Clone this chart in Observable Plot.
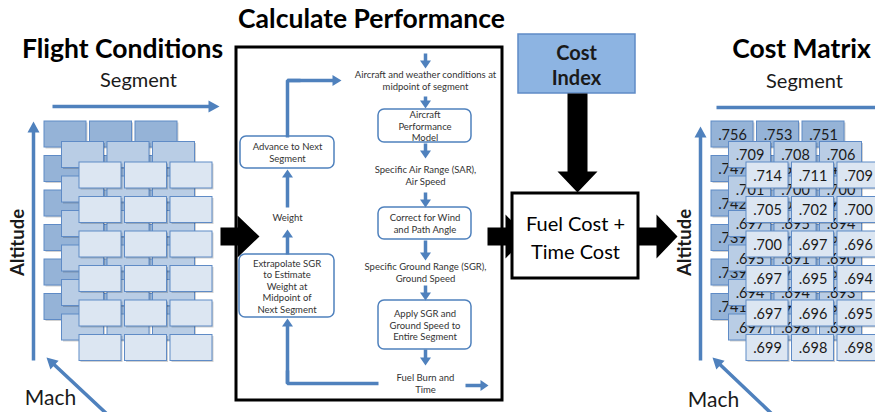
<!DOCTYPE html>
<html><head><meta charset="utf-8">
<script src="https://cdn.jsdelivr.net/npm/d3@7"></script>
<script src="https://cdn.jsdelivr.net/npm/@observablehq/plot@0.6"></script>
<style>body{margin:0;background:#fff} svg{display:block}</style>
</head><body><div id="chart"></div>
<script>
// ---- content ----
const titles = ["Flight Conditions", "Calculate Performance", "Cost Matrix"];
const axisLabels = ["Segment", "Altitude", "Mach"];
const layers = ["back", "middle", "front"];
const costBack = [[0.756,0.753,0.751],[0.747,0.745,0.744],[0.742,0.740,0.739],[0.739,0.737,0.736],[0.739,0.737,0.736],[0.741,0.739,0.738]];
const costMiddle = [[0.709,0.708,0.706],[0.701,0.700,0.700],[0.697,0.695,0.694],[0.695,0.691,0.690],[0.694,0.694,0.693],[0.697,0.698,0.696]];
const costFront = [[0.714,0.711,0.709],[0.705,0.702,0.700],[0.700,0.697,0.696],[0.697,0.695,0.694],[0.697,0.696,0.695],[0.699,0.698,0.698]];
const flowSteps = ["Aircraft and weather conditions at\nmidpoint of segment","Aircraft\nPerformance\nModel","Specific Air Range (SAR),\nAir Speed","Correct for Wind\nand Path Angle","Specific Ground Range (SGR),\nGround Speed","Apply SGR and\nGround Speed to\nEntire Segment","Fuel Burn and\nTime"];
const loopSteps = ["Extrapolate SGR\nto Estimate\nWeight at\nMidpoint of\nNext Segment","Weight","Advance to Next\nSegment"];
const costIndexLabel = "Cost\nIndex";
const costTotalLabel = "Fuel Cost +\nTime Cost";

// ---- layout ----
const W = 875, H = 412;
const BLUE = "#4f81bd";
const layerFill = ["#95b3d7", "#b9cde5", "#dce6f2"];
const matrices = [costBack, costMiddle, costFront];
const fmt = v => d3.format(".3f")(v).replace(/^0/, "");

function cells(l) {
  const out = [];
  for (let p = 0; p < 2; p++)
    for (let r = 0; r < 6; r++)
      for (let c = 0; c < 3; c++) {
        const x1 = 44 + 667 * p + 17.5 * l + 45.5 * c;
        const y1 = 121 + 20.5 * l + 34.5 * r;
        out.push({panel: p, x1, x2: x1 + 42, y1, y2: y1 + 26,
          label: p === 1 ? fmt(matrices[l][r][c]) : ""});
      }
  return out;
}

function arrowPoly(id, x1, y1, x2, y2, shaft, headW, headL) {
  const dx = x2 - x1, dy = y2 - y1, len = Math.hypot(dx, dy);
  const ux = dx / len, uy = dy / len, nx = -uy, ny = ux;
  const bx = x2 - ux * headL, by = y2 - uy * headL;
  const pts = [
    [x1 + nx * shaft / 2, y1 + ny * shaft / 2],
    [bx + nx * shaft / 2, by + ny * shaft / 2],
    [bx + nx * headW / 2, by + ny * headW / 2],
    [x2, y2],
    [bx - nx * headW / 2, by - ny * headW / 2],
    [bx - nx * shaft / 2, by - ny * shaft / 2],
    [x1 - nx * shaft / 2, y1 - ny * shaft / 2]
  ];
  return pts.map(([x, y]) => ({id, x, y}));
}

// blue arrows
const blueArrows = [
  arrowPoly("segL", 52, 106, 219, 106, 3.5, 12, 11),
  arrowPoly("altL", 33, 360, 33, 121, 3.5, 12, 11),
  arrowPoly("machL", 108, 415, 46, 357, 3.5, 12, 11),
  arrowPoly("segR", 716, 107, 890, 107, 3.5, 12, 11),
  arrowPoly("altR", 700, 360, 700, 126, 3.5, 12, 11),
  arrowPoly("machR", 772, 414, 712, 357, 3.5, 12, 11),
  arrowPoly("f1", 425, 53, 425, 68, 3.5, 11, 8),
  arrowPoly("f2", 425, 96, 425, 108, 3.5, 11, 8),
  arrowPoly("f3", 425, 143, 425, 158, 3.5, 11, 8),
  arrowPoly("f4", 425, 192, 425, 207, 3.5, 11, 8),
  arrowPoly("f5", 425, 240, 425, 260, 3.5, 11, 8),
  arrowPoly("f6", 425, 285, 425, 300, 3.5, 11, 8),
  arrowPoly("f7", 425, 349, 425, 365, 3.5, 11, 8),
  arrowPoly("f8", 465, 385, 488, 385, 3.5, 11, 8),
  arrowPoly("l1", 287, 383, 287, 318, 3.5, 11, 8),
  arrowPoly("l2", 287, 254, 287, 229, 3.5, 11, 8),
  arrowPoly("l3", 287, 207, 287, 169, 3.5, 11, 8),
  arrowPoly("l4", 287, 80, 341, 80, 3.5, 11, 9)
].flat();
const blueLines = [
  {id: "a", x: 378, y: 383}, {id: "a", x: 287, y: 383}, {id: "a", x: 287, y: 370},
  {id: "b", x: 287, y: 137}, {id: "b", x: 287, y: 80}, {id: "b", x: 300, y: 80}
];

// black block arrows
const blackArrows = [
  arrowPoly("k1", 220, 236, 259, 236, 18, 42, 22),
  arrowPoly("k2", 487, 236, 526, 236, 18, 44, 21),
  arrowPoly("k3", 638, 236, 677, 236, 18, 44, 21),
  arrowPoly("k4", 577, 93, 577, 192, 20, 40, 21)
].flat();

const flowBoxes = [
  {label: flowSteps[1], x1: 378, x2: 471, y1: 109, y2: 142},
  {label: flowSteps[3], x1: 378, x2: 471, y1: 207, y2: 239},
  {label: flowSteps[5], x1: 378, x2: 471, y1: 300, y2: 349},
  {label: loopSteps[0], x1: 239, x2: 334, y1: 254, y2: 317},
  {label: loopSteps[2], x1: 240, x2: 334, y1: 136, y2: 168}
];
const flowTexts = [
  {label: flowSteps[0], x: 425, y: 80},
  {label: flowSteps[2], x: 425, y: 175},
  {label: flowSteps[4], x: 425, y: 272},
  {label: flowSteps[6], x: 425, y: 383},
  {label: loopSteps[1], x: 287, y: 217}
];

const titleText = [
  {label: titles[0], x: 122, y: 49},
  {label: titles[1], x: 371, y: 19},
  {label: titles[2], x: 801, y: 49}
];
const segText = [{label: axisLabels[0], x: 138, y: 80}, {label: axisLabels[0], x: 804, y: 81}];
const altText = [{label: axisLabels[1], x: 18, y: 242}, {label: axisLabels[1], x: 685, y: 242}];
const machText = [{label: axisLabels[2], x: 50, y: 398}, {label: axisLabels[2], x: 713, y: 400}];

const marks = [];
layers.forEach((layer, l) => {
  const data = cells(l);
  marks.push(Plot.rect(data, {x1: d => d.x1 + 1.5, x2: d => d.x2 + 1.5, y1: d => d.y1 + 1.5, y2: d => d.y2 + 1.5, fill: "#000", fillOpacity: 0.18}));
  marks.push(Plot.rect(data, {x1: "x1", x2: "x2", y1: "y1", y2: "y2", fill: layerFill[l], stroke: "#5f8bc6", strokeWidth: 1}));
  marks.push(Plot.text(data.filter(d => d.panel === 1), {x: d => (d.x1 + d.x2) / 2, y: d => (d.y1 + d.y2) / 2 + 0.5, text: "label", fontSize: 14.5, fill: "#1a1a1a"}));
});

marks.push(
  Plot.rect([{x1: 236, x2: 502, y1: 47, y2: 400}], {x1: "x1", x2: "x2", y1: "y1", y2: "y2", fill: "#fff", stroke: "#000", strokeWidth: 3}),
  Plot.rect(flowBoxes, {x1: "x1", x2: "x2", y1: "y1", y2: "y2", fill: "#fff", stroke: BLUE, strokeWidth: 1.5, rx: 6}),
  Plot.text(flowBoxes, {x: d => (d.x1 + d.x2) / 2, y: d => (d.y1 + d.y2) / 2, text: "label", fontSize: 9.5, lineHeight: 1.22, fill: "#333"}),
  Plot.text(flowTexts, {x: "x", y: "y", text: "label", fontSize: 9.5, lineHeight: 1.22, fill: "#333"}),
  Plot.line(blueLines, {x: "x", y: "y", z: "id", stroke: BLUE, strokeWidth: 3.5, strokeLinejoin: "miter", strokeLinecap: "butt"}),
  Plot.line(blueArrows, {x: "x", y: "y", z: "id", fill: BLUE, stroke: "none"}),
  Plot.rect([{x1: 518, x2: 635, y1: 34, y2: 93}], {x1: "x1", x2: "x2", y1: "y1", y2: "y2", fill: "#8db4e2", stroke: "#5f8bc6", strokeWidth: 1.5}),
  Plot.text([costIndexLabel], {x: 576, y: 64, text: d => d, fontSize: 20, fontWeight: "bold", lineHeight: 1.25, fill: "#1a1a1a"}),
  Plot.line(blackArrows, {x: "x", y: "y", z: "id", fill: "#000", stroke: "none"}),
  Plot.rect([{x1: 512, x2: 638, y1: 193, y2: 278}], {x1: "x1", x2: "x2", y1: "y1", y2: "y2", fill: "#fff", stroke: "#000", strokeWidth: 3}),
  Plot.text([costTotalLabel], {x: 575, y: 236, text: d => d, fontSize: 20, lineHeight: 1.4, fill: "#000"}),
  Plot.text(titleText, {x: "x", y: "y", text: "label", fontSize: 26.5, fontWeight: "bold", fill: "#000"}),
  Plot.text(segText, {x: "x", y: "y", text: "label", fontSize: 20, fill: "#1a1a1a"}),
  Plot.text(altText, {x: "x", y: "y", text: "label", fontSize: 18.5, fontWeight: "bold", rotate: -90, fill: "#1a1a1a"}),
  Plot.text(machText, {x: "x", y: "y", text: "label", fontSize: 21, fill: "#1a1a1a"})
);

const chart = Plot.plot({
  width: W, height: H, margin: 0,
  x: {domain: [0, W], axis: null},
  y: {domain: [0, H], range: [0, H], axis: null},
  style: {fontFamily: "Lato, 'Open Sans', sans-serif", background: "#fff"},
  marks
});
document.getElementById("chart").appendChild(chart);
</script>
</body></html>
